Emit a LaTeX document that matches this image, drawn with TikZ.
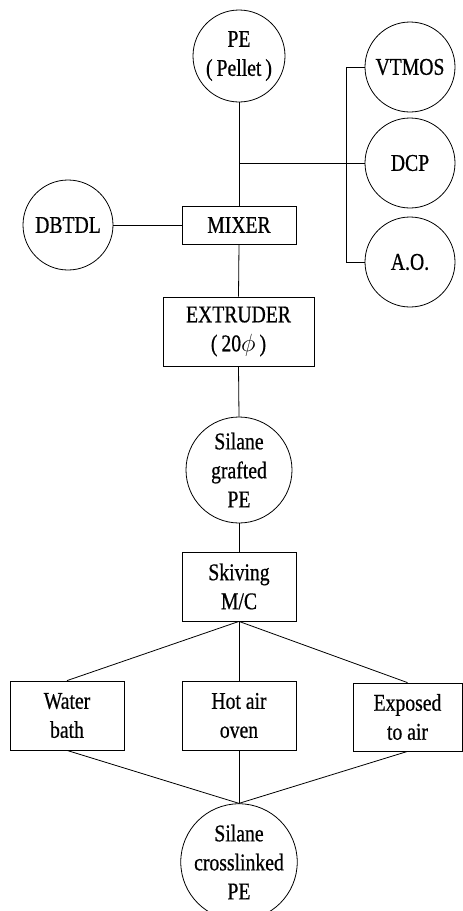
\documentclass[tikz,border=0pt]{standalone}
\usepackage{fontspec}
\setmainfont[FakeStretch=0.82,FakeBold=0.6]{Liberation Serif}
\begin{document}
\begin{tikzpicture}[x=1pt,y=-1pt,
  every node/.style={font=\fontsize{24}{29}\selectfont, align=center, inner sep=0pt},
  circ/.style={draw, circle, line width=0.8pt},
  boxn/.style={draw, rectangle, line width=0.8pt},
  conn/.style={line width=0.8pt}]
\useasboundingbox (0,0) rectangle (463,911);
\node[circ, minimum size=92pt] (pe) at (239,56) {PE\\(\,Pellet\,)};
\node[circ, minimum size=90pt] (vt) at (410,67) {VTMOS};
\node[circ, minimum size=90pt] (dcp) at (410,163) {DCP};
\node[circ, minimum size=90pt] (ao) at (410,262) {A.O.};
\node[circ, minimum size=90pt] (db) at (68,225) {DBTDL};
\node[boxn, minimum width=114pt, minimum height=38pt] (mix) at (239,225) {MIXER};
\node[boxn, minimum width=151pt, minimum height=69pt] (ext) at (238.5,331.5) {EXTRUDER\\(\,20$\phi$\,)};
\node[circ, minimum size=106pt] (gr) at (239,470) {Silane\\grafted\\PE};
\node[boxn, minimum width=114pt, minimum height=69pt] (sk) at (239,586.5) {Skiving\\M/C};
\node[boxn, minimum width=114pt, minimum height=69pt] (wb) at (67,715.5) {Water\\bath};
\node[boxn, minimum width=114pt, minimum height=69pt] (ho) at (239,715.5) {Hot air\\oven};
\node[boxn, minimum width=109pt, minimum height=68pt] (ea) at (407.5,717) {Exposed\\to air};
\node[circ, minimum size=106pt] (cl) at (239,862) {Silane\\crosslinked\\PE};
\coordinate (jn) at (239,163);
\coordinate (bt) at (346,67);
\coordinate (bb) at (346,262);
\draw[conn] (pe.south) -- (mix.north);
\draw[conn] (jn) -- (dcp.west);
\draw[conn] (vt.west) -- (bt) -- (bb) -- (ao.west);
\draw[conn] (db.east) -- (mix.west);
\draw[conn] (mix.south) -- (ext.north);
\draw[conn] (ext.south) -- (gr.north);
\draw[conn] (gr.south) -- (sk.north);
\draw[conn] (sk.south) -- (wb.north);
\draw[conn] (sk.south) -- (ho.north);
\draw[conn] (sk.south) -- (ea.north);
\draw[conn] (wb.south) -- (cl.north);
\draw[conn] (ho.south) -- (cl.north);
\draw[conn] (ea.south) -- (cl.north);
\end{tikzpicture}
\end{document}
